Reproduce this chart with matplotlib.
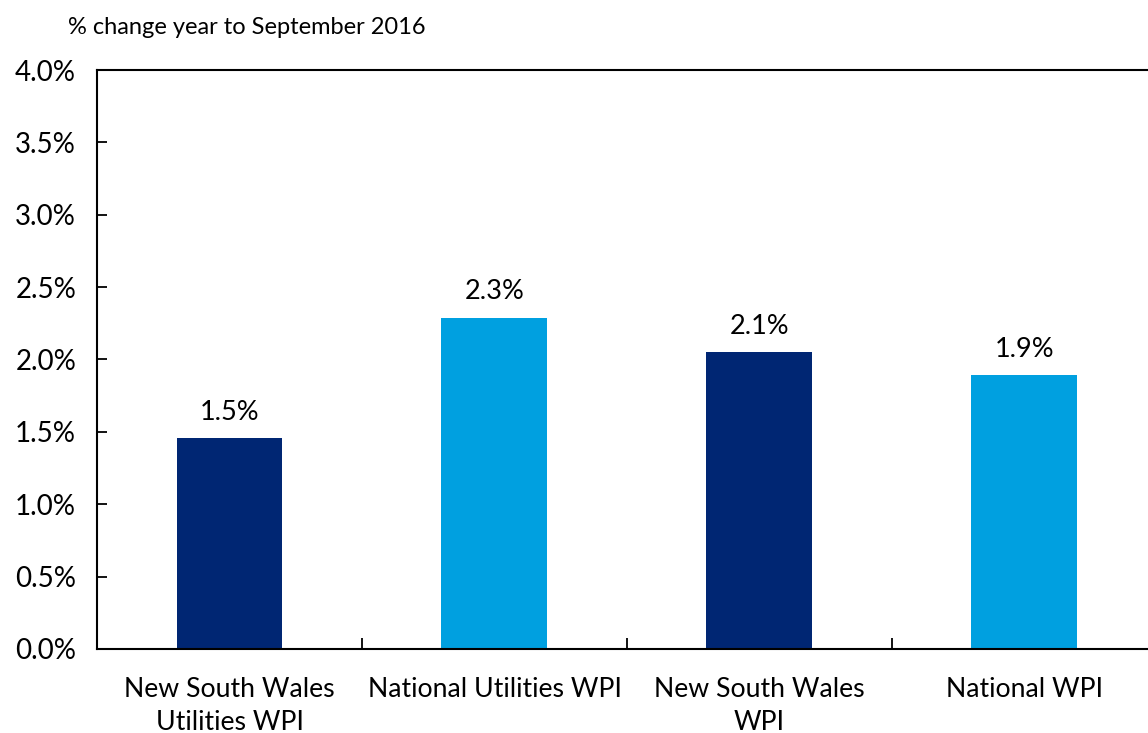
import matplotlib
matplotlib.use("Agg")
import matplotlib.pyplot as plt
from matplotlib.ticker import FixedLocator, PercentFormatter

categories = ["New South Wales\nUtilities WPI", "National Utilities WPI",
              "New South Wales\nWPI", "National WPI"]
values = [1.46, 2.29, 2.05, 1.89]
labels = ["1.5%", "2.3%", "2.1%", "1.9%"]
colors = ["#002673", "#00A0E0", "#002673", "#00A0E0"]

plt.rcParams['font.family'] = ['Lato', 'DejaVu Sans']

fig = plt.figure(figsize=(11.48, 7.33), dpi=100)
ax = fig.add_axes([0.0845, 0.1146, 1.0078 - 0.0845, 0.9045 - 0.1146])

x = list(range(len(categories)))
ax.bar(x, values, width=0.4, color=colors)
for xi, v, lab in zip(x, values, labels):
    ax.text(xi, v + 0.09, lab, ha='center', va='bottom', fontsize=19.5)

ax.set_xlim(-0.5, 3.5)
ax.set_ylim(0, 4.0)
ax.set_yticks([0, 0.5, 1.0, 1.5, 2.0, 2.5, 3.0, 3.5, 4.0])
ax.yaxis.set_major_formatter(PercentFormatter(decimals=1))
ax.set_xticks(x)
ax.set_xticklabels(categories, fontsize=19.2, linespacing=1.4)
ax.xaxis.set_minor_locator(FixedLocator([0.5, 1.5, 2.5]))
ax.tick_params(axis='x', which='major', length=0, pad=20)
ax.tick_params(axis='x', which='minor', direction='in', length=8, width=1.3)
ax.tick_params(axis='y', direction='in', length=7, width=1.3, labelsize=20, pad=15)
for s in ax.spines.values():
    s.set_linewidth(1.5)
    s.set_color('black')

fig.text(68 / 1148, 1 - 27 / 733, "% change year to September 2016", fontsize=17,
         ha='left', va='center')

fig.savefig("out.png", dpi=100)
